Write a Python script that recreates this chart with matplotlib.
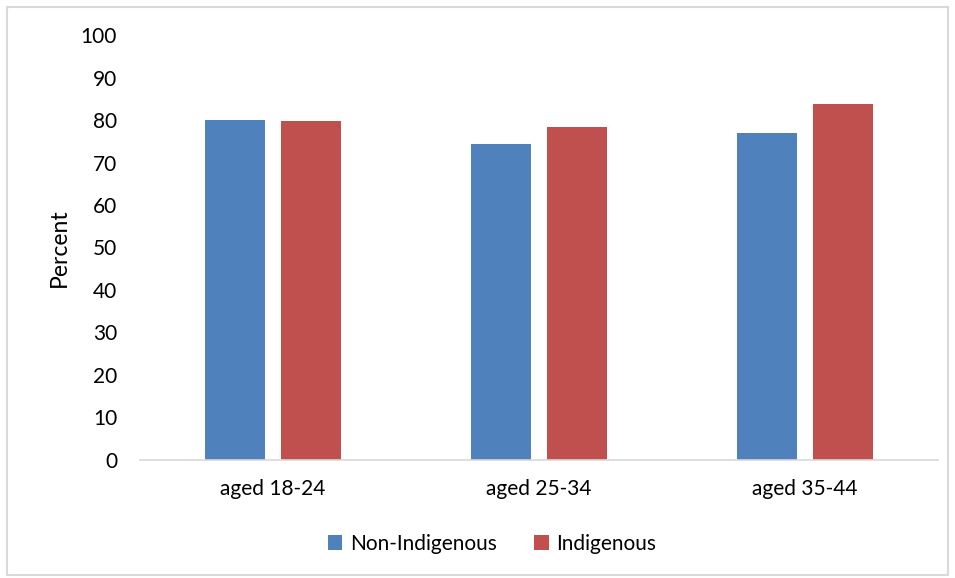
import numpy as np
from matplotlib import pyplot as plt
from matplotlib.patches import Rectangle

categories = ['aged 18-24', 'aged 25-34', 'aged 35-44']
non_indigenous = [80.1, 74.4, 76.9]
indigenous = [79.8, 78.4, 83.8]
series_names = ['Non-Indigenous', 'Indigenous']
colors = ['#4F81BD', '#C0504D']

plt.rcParams['font.family'] = ['Lato', 'DejaVu Sans']

fig = plt.figure(figsize=(9.55, 5.78), dpi=100)
ax = fig.add_axes([0.1466, 0.2042, 0.8354, 0.7352])

x = np.arange(len(categories))
bw = 0.2256
off = bw / 2 + 0.03
ax.bar(x - off, non_indigenous, bw, color=colors[0], label=series_names[0])
ax.bar(x + off, indigenous, bw, color=colors[1], label=series_names[1])

ax.set_xlim(-0.5, 2.5)
ax.set_ylim(0, 100)
ax.set_yticks(range(0, 101, 10))
ax.set_xticks(x)
ax.set_xticklabels(categories)
ax.tick_params(axis='both', length=0, labelsize=15, colors='black')
ax.tick_params(axis='y', pad=16.5)
ax.tick_params(axis='x', pad=14)
for s in ['left', 'right', 'top']:
    ax.spines[s].set_visible(False)
ax.spines['bottom'].set_color('#D9D9D9')
ax.spines['bottom'].set_linewidth(1.2)

ax.set_ylabel('Percent', fontsize=16.5)
ax.yaxis.set_label_coords(-0.088, 0.5)

fig.legend(loc='center', bbox_to_anchor=(0.515, 0.059), ncol=2, frameon=False,
           fontsize=15, handlelength=0.7, handleheight=0.7, columnspacing=1.8,
           handletextpad=0.35)

# outer chart border
fig.patches.append(Rectangle((0.007, 0.005), 0.986, 0.983, transform=fig.transFigure,
                             fill=False, edgecolor='#D9D9D9', linewidth=1.5))

fig.savefig('out.png', dpi=100)
